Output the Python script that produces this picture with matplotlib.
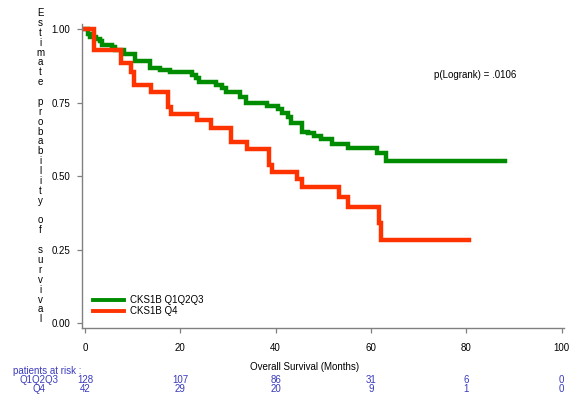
import numpy as np
import matplotlib
matplotlib.use("Agg")
import matplotlib.pyplot as plt
import matplotlib.transforms as mtransforms

plt.rcParams["font.family"] = ["Liberation Sans", "DejaVu Sans"]

# Kaplan-Meier steps (months, survival)
t_q123 = [0, 0.6, 1.1, 2.3, 3.2, 3.5, 5.6, 6.3, 8.1, 10.5, 13.7, 15.8, 17.9, 22.5, 23.2,
          23.9, 27.4, 28.8, 29.5, 32.6, 33.7, 38.2, 40.4, 41.4, 42.5, 43.2, 45.6, 46.7,
          48.1, 49.5, 51.9, 55.1, 61.3, 63.2, 88.2]
s_q123 = [1.0, 0.984, 0.973, 0.967, 0.961, 0.947, 0.941, 0.930, 0.915, 0.892, 0.869, 0.861,
          0.856, 0.845, 0.833, 0.822, 0.811, 0.799, 0.788, 0.771, 0.748, 0.739, 0.728, 0.714,
          0.703, 0.680, 0.652, 0.646, 0.637, 0.626, 0.609, 0.595, 0.578, 0.552, 0.552]
t_q4 = [0, 1.9, 7.5, 9.6, 10.3, 13.8, 17.4, 18.0, 23.4, 26.4, 30.7, 34.0, 38.5, 39.3,
        44.5, 45.6, 53.2, 55.1, 61.6, 62.1, 80.5]
s_q4 = [1.0, 0.929, 0.884, 0.856, 0.811, 0.788, 0.737, 0.712, 0.691, 0.665, 0.618, 0.592,
        0.540, 0.516, 0.490, 0.463, 0.431, 0.394, 0.340, 0.283, 0.283]

risk_times = [0, 20, 40, 60, 80, 100]
risk_q123 = [128, 107, 86, 31, 6, 0]
risk_q4 = [42, 29, 20, 9, 1, 0]

GREEN = "#008c00"
RED = "#ff3300"
BLUE = "#3a3abf"
GRAY = "#808080"

fig = plt.figure(figsize=(5.73, 3.97), dpi=100)
ax = fig.add_axes([0.1426, 0.173, 0.8417, 0.7665])

ax.step(t_q123, s_q123, where="post", color=GREEN, lw=3.2, label="CKS1B Q1Q2Q3",
        solid_joinstyle="miter")
ax.step(t_q4, s_q4, where="post", color=RED, lw=3.2, label="CKS1B Q4",
        solid_joinstyle="miter")

ax.set_xlim(-0.7, 100.5)
ax.set_ylim(-0.017, 1.018)
ax.set_xticks(risk_times)
ax.set_yticks([0, 0.25, 0.5, 0.75, 1.0])
ax.set_yticklabels(["0.00", "0.25", "0.50", "0.75", "1.00"])
for s in ("top", "right"):
    ax.spines[s].set_visible(False)
for s in ("left", "bottom"):
    ax.spines[s].set_color(GRAY)
    ax.spines[s].set_linewidth(1.0)
ax.tick_params(axis="both", colors=GRAY, labelcolor="black", labelsize=7, length=3.4, width=0.9)
ax.tick_params(axis="y", pad=5)
ax.tick_params(axis="x", pad=7)

leg = ax.legend(loc="upper left", bbox_to_anchor=(0.024, 0.108), frameon=False,
                fontsize=7, handlelength=3.2, handletextpad=0.6, labelspacing=0.05,
                borderpad=0, borderaxespad=0)
for h in leg.get_lines():
    h.set_linewidth(2.8)

fig.text(434 / 573, 1 - 75 / 397, "p(Logrank) = .0106", fontsize=7, va="center")

# y label: one letter per line
ylabel = "Estimate probability of survival"
fig.text(40 / 573, 1 - 8 / 397, "\n".join(ylabel), ha="center", va="top",
         fontsize=7, linespacing=0.985)

fig.text(305 / 573, 1 - 367 / 397, "Overall Survival (Months)", ha="center", va="center",
         fontsize=7)

# numbers at risk
fig.text(13 / 573, 1 - 371 / 397, "patients at risk :", color=BLUE, fontsize=7, va="center")
fig.text(39 / 573, 1 - 380 / 397, "Q1Q2Q3", color=BLUE, fontsize=7, va="center", ha="center")
fig.text(39 / 573, 1 - 388.5 / 397, "Q4", color=BLUE, fontsize=7, va="center", ha="center")
blend = mtransforms.blended_transform_factory(ax.transData, fig.transFigure)
for t, a, b in zip(risk_times, risk_q123, risk_q4):
    ax.text(t, 1 - 380 / 397, str(a), transform=blend, color=BLUE, fontsize=7,
            ha="center", va="center", clip_on=False)
    ax.text(t, 1 - 388.5 / 397, str(b), transform=blend, color=BLUE, fontsize=7,
            ha="center", va="center", clip_on=False)

fig.savefig("out.png", dpi=100)
